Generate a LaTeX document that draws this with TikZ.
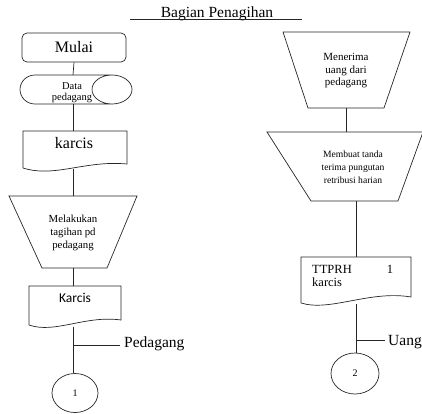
\documentclass[tikz,border=0pt]{standalone}
\usepackage{fontspec}
\setmainfont{Liberation Serif}
\newfontfamily\sansK{Carlito}
\usetikzlibrary{shapes.geometric}
\begin{document}
\begin{tikzpicture}[x=1pt,y=-1pt,
  shp/.style={draw=black!85, line width=0.7pt},
  conn/.style={draw=black!85, line width=0.7pt},
  lbl/.style={inner sep=0pt, align=center},
  fs/.style n args={2}{font=\fontsize{#1}{#2}\selectfont}]
\useasboundingbox (0,0) rectangle (422,413);
\clip (0,0) rectangle (422,413);

% title
\node[lbl, fs={15.5}{17}, anchor=base] (title) at (217,17) {Bagian Penagihan};
\coordinate (ulA) at (130,19.5);
\coordinate (ulB) at (302,19.5);
\draw[conn, line width=0.6pt] (ulA) -- (ulB);

% ---------- left column ----------
\node[shp, rounded corners=5pt, minimum width=104pt, minimum height=29pt, inner sep=0pt, fs={16}{18}] (mulai) at (74,47.5) {Mulai};

% data pedagang (stored data)
\draw[shp] (35,75) -- (112,75)
  .. controls (101,75) and (92,81.5) .. (92,89.5)
  .. controls (92,97.5) and (101,104) .. (112,104) -- (35,104)
  .. controls (26.7,104) and (20,97.5) .. (20,89.5)
  .. controls (20,81.5) and (26.7,75) .. (35,75) -- cycle;
\draw[shp] (112,75) .. controls (123,75) and (132,81.5) .. (132,89.5)
  .. controls (132,97.5) and (123,104) .. (112,104);
\node[lbl, fs={10.5}{11}] (data) at (72,92.5) {Data\\pedagang};
\coordinate (dataT) at (73,75);
\coordinate (dataB) at (73,104);

% document karcis
\draw[shp] (23,168) -- (23,131) -- (127,131) -- (127,164)
  .. controls (85,160) and (55,178) .. (23,168);
\node[lbl, fs={16}{18}] (karcis1) at (74,143) {karcis};
\coordinate (doc1T) at (73,131);
\coordinate (doc1B) at (73,169);

% manual operation left
\draw[shp] (9,196) -- (137,196) -- (107,268) -- (42,268) -- cycle;
\node[lbl, fs={10.8}{13}] (tagih) at (73,233) {Melakukan\\tagihan pd\\pedagang};
\coordinate (trLT) at (73,196);
\coordinate (trLB) at (73,268);

% document Karcis (sans)
\draw[shp] (29,325) -- (29,286) -- (121,286) -- (121,320)
  .. controls (85,315) and (55,334) .. (29,325);
\node[lbl, font=\sansK\fontsize{13.5}{15}\selectfont] (karcis2) at (75,298) {Karcis};
\coordinate (doc2T) at (73,286);
\coordinate (doc2B) at (73,327);

% connector 1
\node[shp, ellipse, minimum width=46pt, minimum height=39pt, inner sep=0pt, fs={10}{12}] (c1) at (75,393) {1};
\coordinate (brL) at (73,345);
\coordinate (brLend) at (120,345);
\node[lbl, fs={15.5}{17}, anchor=base west] (pedagang) at (124,347.5) {Pedagang};

\draw[conn] (mulai.south) -- (dataT);
\draw[conn] (dataB) -- (doc1T);
\draw[conn] (doc1B) -- (trLT);
\draw[conn] (trLB) -- (doc2T);
\draw[conn] (doc2B) -- (doc2B |- c1.north);
\draw[conn] (brL) -- (brLend);

% ---------- right column ----------
\draw[shp] (283,32) -- (410,32) -- (384,108) -- (308,108) -- cycle;
\node[lbl, fs={11}{12.5}] (terima) at (346,71) {Menerima\\uang dari\\pedagang};
\coordinate (tr1B) at (346,108);

\draw[shp] (267,132) -- (423,132) -- (398,201) -- (311,201) -- cycle;
\node[lbl, fs={9.6}{12.8}] (buat) at (353,167) {Membuat tanda\\terima pungutan\\retribusi harian};
\coordinate (tr2T) at (346,132);
\coordinate (tr2B) at (356,201);

% document TTPRH
\draw[shp] (301,303) -- (301,257) -- (411,257) -- (411,297)
  .. controls (370,290) and (330,312) .. (301,303);
\node[lbl, fs={12.5}{14}, anchor=base west] (ttprh) at (312,273) {TTPRH};
\node[lbl, fs={12.5}{14}, anchor=base] (one) at (390,273) {1};
\node[lbl, fs={12.5}{14}, anchor=base west] (karcis3) at (312,286) {karcis};
\coordinate (doc3T) at (356,257);
\coordinate (doc3B) at (356,304);

\node[shp, ellipse, minimum width=48pt, minimum height=41pt, inner sep=0pt, fs={10}{12}] (c2) at (355,373.5) {2};
\coordinate (brR) at (356,340);
\coordinate (brRend) at (385,340);
\node[lbl, fs={15.5}{17}, anchor=base west] (uang) at (388,345.5) {Uang};

\draw[conn] (tr1B) -- (tr2T);
\draw[conn] (tr2B) -- (doc3T);
\draw[conn] (doc3B) -- (doc3B |- c2.north);
\draw[conn] (brR) -- (brRend);
\end{tikzpicture}
\end{document}
